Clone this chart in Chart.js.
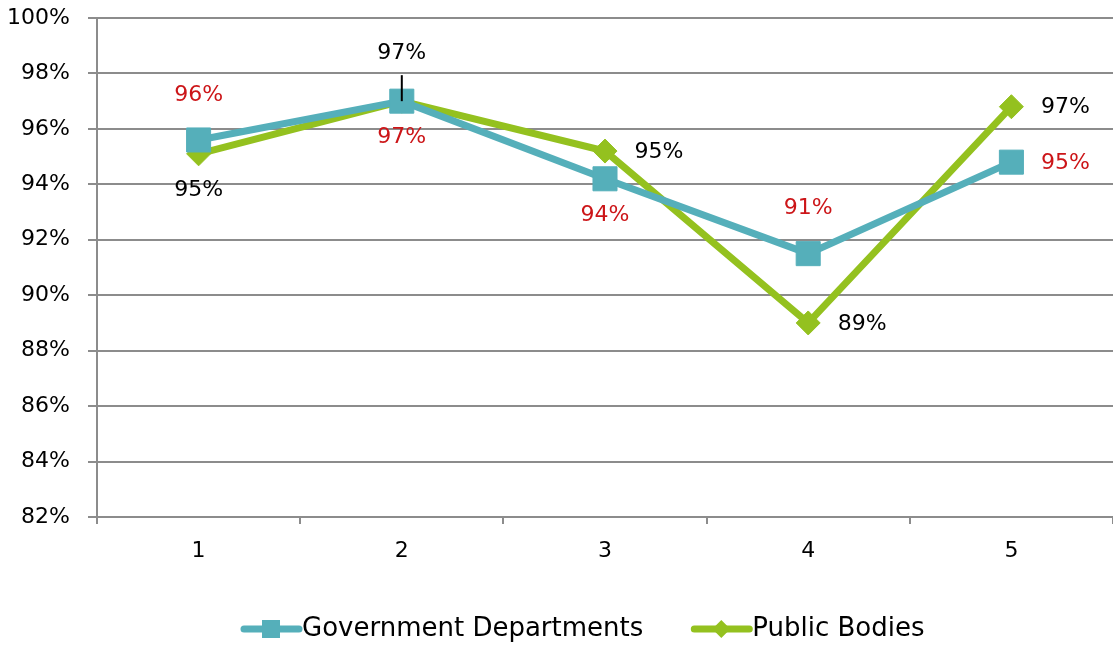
<!DOCTYPE html>
<html>
<head>
<meta charset="utf-8">
<script src="https://cdn.jsdelivr.net/npm/chart.js@4.4.0/dist/chart.umd.min.js"></script>
<style>
  html, body { margin: 0; padding: 0; background: #fff; overflow: hidden; }
  #wrap { width: 1113px; height: 647px; overflow: hidden; }
</style>
</head>
<body>
<!-- canvas is a bit wider than the page so the plot runs to the right edge -->
<div id="wrap"><canvas id="myChart" width="1131" height="647"></canvas></div>
<script>
// -- ** data ** -- \\
const categories = ['1', '2', '3', '4', '5'];
const govValues = [95.6, 97.0, 94.2, 91.5, 94.8];
const pubValues = [95.1, 97.0, 95.2, 89.0, 96.8];
const govLabels = ['96%', '97%', '94%', '91%', '95%'];
const pubLabels = ['95%', '97%', '95%', '89%', '97%'];
const govLabelPos = ['top', 'bottom', 'bottom', 'top', 'right'];
const pubLabelPos = ['bottom', 'topLine', 'right', 'right', 'right'];
const yTicks = [82, 84, 86, 88, 90, 92, 94, 96, 98, 100];

const teal = '#55AFBA';
const green = '#94C11F';
const gridGrey = '#8C8C8C';
const fontFamily = "'DejaVu Sans', sans-serif";

// -- ** data labels ** -- \\
const pointLabels = {
  id: 'pointLabels',
  afterDatasetsDraw(chart) {
    const ctx = chart.ctx;
    ctx.save();
    ctx.font = '22px ' + fontFamily;
    ctx.textAlign = 'center';
    ctx.textBaseline = 'middle';
    chart.data.datasets.forEach((ds, i) => {
      const meta = chart.getDatasetMeta(i);
      meta.data.forEach((pt, j) => {
        let x = pt.x, y = pt.y;
        const pos = ds.labelPos[j];
        if (pos === 'top') y -= 46;
        if (pos === 'bottom') y += 35;
        if (pos === 'right') x += 54;
        if (pos === 'topLine') {
          y -= 49;
          ctx.strokeStyle = '#000';
          ctx.lineWidth = 2;
          ctx.beginPath();
          ctx.moveTo(pt.x, pt.y - 26);
          ctx.lineTo(pt.x, pt.y);
          ctx.stroke();
        }
        ctx.fillStyle = ds.labelColor;
        ctx.fillText(ds.labelText[j], x, y + 1);
      });
    });
    ctx.restore();
  }
};

// -- ** legend ** -- \\
const bottomLegend = {
  id: 'bottomLegend',
  afterDraw(chart) {
    const ctx = chart.ctx;
    ctx.save();
    ctx.font = '26px ' + fontFamily;
    ctx.textBaseline = 'middle';
    let x = 241;
    const y = 629;
    chart.data.datasets.forEach((ds) => {
      ctx.strokeStyle = ds.borderColor;
      ctx.lineWidth = 7;
      ctx.lineCap = 'round';
      ctx.beginPath();
      ctx.moveTo(x + 3, y);
      ctx.lineTo(x + 58, y);
      ctx.stroke();
      ctx.fillStyle = ds.backgroundColor;
      const cx = x + 30;
      ctx.beginPath();
      if (ds.pointStyle === 'rect') {
        ctx.rect(cx - 9, y - 9, 18, 18);
      } else {
        ctx.moveTo(cx, y - 9);
        ctx.lineTo(cx + 9, y);
        ctx.lineTo(cx, y + 9);
        ctx.lineTo(cx - 9, y);
        ctx.closePath();
      }
      ctx.fill();
      ctx.fillStyle = '#000';
      ctx.fillText(ds.label, x + 61, y);
      x += 61 + ctx.measureText(ds.label).width + 48;
    });
    ctx.restore();
  }
};

const config = {
  type: 'line',
  data: {
    labels: categories,
    datasets: [
      {
        label: 'Government Departments',
        data: govValues,
        borderColor: teal,
        backgroundColor: teal,
        borderWidth: 7,
        pointStyle: 'rect',
        pointRadius: 17,
        pointBorderWidth: 1,
        pointHoverRadius: 17,
        labelText: govLabels,
        labelPos: govLabelPos,
        labelColor: '#CC1518'
      },
      {
        label: 'Public Bodies',
        data: pubValues,
        borderColor: green,
        backgroundColor: green,
        borderWidth: 7,
        pointStyle: 'rectRot',
        pointRadius: 12,
        pointBorderWidth: 1,
        pointHoverRadius: 12,
        labelText: pubLabels,
        labelPos: pubLabelPos,
        labelColor: '#000'
      }
    ]
  },
  options: {
    responsive: false,
    animation: false,
    layout: { padding: { top: 17, right: 0, left: 0, bottom: 0 } },
    plugins: {
      legend: { display: false },
      tooltip: { enabled: false }
    },
    scales: {
      x: {
        offset: true,
        grid: {
          offset: true,
          drawOnChartArea: false,
          drawTicks: true,
          tickLength: 7,
          color: gridGrey,
          lineWidth: 2
        },
        border: { color: gridGrey, width: 2 },
        ticks: {
          color: '#000',
          padding: 14,
          font: { family: fontFamily, size: 22 }
        },
        afterFit(scale) {
          scale.height = 130;
        }
      },
      y: {
        min: 82,
        max: 100,
        afterBuildTicks(scale) { scale.ticks = yTicks.map(v => ({ value: v })); },
        grid: {
          color: gridGrey,
          lineWidth: 2,
          tickLength: 9
        },
        border: { color: gridGrey, width: 2 },
        ticks: {
          color: '#000',
          padding: 18,
          font: { family: fontFamily, size: 22 },
          callback: (v) => v + '%'
        },
        afterFit(scale) {
          scale.width = 97;
          scale.paddingTop = 0;
          scale.paddingBottom = 0;
        }
      }
    }
  },
  plugins: [pointLabels, bottomLegend]
};

const myChart = new Chart(document.getElementById('myChart'), config);
</script>
</body>
</html>
